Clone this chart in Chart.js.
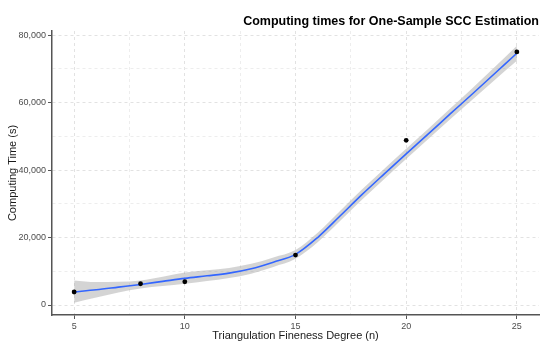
<!DOCTYPE html>
<html>
<head>
<meta charset="utf-8">
<title>Computing times for One-Sample SCC Estimation</title>
<script src="https://cdn.jsdelivr.net/npm/chart.js@4"></script>
<style>
    html, body { margin: 0; padding: 0; background: #ffffff; }
    #wrap { width: 550px; height: 350px; }
</style>
</head>
<body>
<div id="wrap"><canvas id="sccChart"></canvas></div>
<script>
// Observed computing times
const degrees = [5, 8, 10, 15, 20, 25];
const times = [3850, 6300, 6900, 14800, 48800, 75000];

// Smoothed fit and its confidence band
const fitDegrees = [5, 6, 7, 8, 9, 10, 11, 12, 13, 14, 15, 16, 17, 18, 19, 20, 21, 22, 23, 24, 25];
const fitTimes = [3900, 4500, 5300, 6100, 7000, 7900, 8650, 9450, 10750, 12700, 15000, 20000, 26300, 32700, 38800, 44800, 50700, 56700, 62600, 68600, 74600];
const bandLower = [700, 2200, 3700, 4900, 5600, 6300, 7100, 8000, 9300, 11300, 13700, 18600, 24800, 31200, 37300, 43300, 49200, 55100, 60900, 66700, 72400];
const bandUpper = [7300, 6800, 6900, 7300, 8400, 9600, 10300, 11000, 12200, 14100, 16300, 21400, 27800, 34200, 40300, 46300, 52200, 58300, 64300, 70500, 76800];

// Tick positions (major ones get labels, the rest are minor grid lines)
const xTicks = [5, 7.5, 10, 12.5, 15, 17.5, 20, 22.5, 25];
const yTicks = [0, 10000, 20000, 30000, 40000, 50000, 60000, 70000, 80000];

const font = "'Liberation Sans', Arial, sans-serif";

function toPoints(xs, ys) {
    return xs.map((x, i) => ({ x: x, y: ys[i] }));
}

function isMajorX(v) { return v % 5 === 0; }
function isMajorY(v) { return v % 20000 === 0; }

const ctx = document.getElementById("sccChart").getContext("2d");
const chart = new Chart(ctx, {
    type: "line",
    data: {
        datasets: [
            {
                label: "lower",
                data: toPoints(fitDegrees, bandLower),
                borderWidth: 0,
                borderColor: "rgba(0,0,0,0)",
                pointRadius: 0,
                fill: false,
                cubicInterpolationMode: "monotone",
                order: 3
            },
            {
                label: "upper",
                data: toPoints(fitDegrees, bandUpper),
                borderWidth: 0,
                borderColor: "rgba(0,0,0,0)",
                backgroundColor: "rgba(153,153,153,0.42)",
                pointRadius: 0,
                fill: "-1",
                cubicInterpolationMode: "monotone",
                order: 2
            },
            {
                label: "fit",
                data: toPoints(fitDegrees, fitTimes),
                borderColor: "#3366FF",
                borderWidth: 1.6,
                pointRadius: 0,
                fill: false,
                cubicInterpolationMode: "monotone",
                order: 1
            },
            {
                label: "observed",
                data: toPoints(degrees, times),
                showLine: false,
                pointRadius: 2.4,
                pointBackgroundColor: "#000000",
                pointBorderWidth: 0,
                order: 0
            }
        ]
    },
    options: {
        responsive: true,
        maintainAspectRatio: false,
        animation: false,
        events: [],
        layout: { padding: { left: 0, right: 11, top: 0, bottom: 0 } },
        plugins: {
            legend: { display: false },
            tooltip: { enabled: false },
            title: {
                display: true,
                text: "Computing times for One-Sample SCC Estimation",
                align: "end",
                color: "#000000",
                font: { family: font, size: 12.5, weight: "bold" },
                padding: { top: 14, bottom: 2 }
            }
        },
        scales: {
            x: {
                type: "linear",
                min: 4,
                max: 26,
                afterBuildTicks: axis => { axis.ticks = xTicks.map(v => ({ value: v })); },
                afterFit: axis => { axis.height = 35; },
                ticks: {
                    autoSkip: false,
                    maxRotation: 0,
                    padding: 2,
                    color: "#4d4d4d",
                    font: { family: font, size: 9 },
                    callback: v => isMajorX(v) ? String(v) : ""
                },
                grid: {
                    color: c => isMajorX(c.tick.value) ? "#e2e2e2" : "#ededed",
                    tickColor: c => isMajorX(c.tick.value) ? "#555555" : "rgba(0,0,0,0)",
                    tickLength: 4,
                    lineWidth: 1
                },
                border: { display: true, color: "#555555", width: 1.5, dash: [3, 3] },
                title: {
                    display: true,
                    text: "Triangulation Fineness Degree (n)",
                    color: "#1a1a1a",
                    font: { family: font, size: 11 },
                    padding: { top: 0, bottom: 7 }
                }
            },
            y: {
                type: "linear",
                min: -2960,
                max: 81200,
                afterBuildTicks: axis => { axis.ticks = yTicks.map(v => ({ value: v })); },
                afterFit: axis => { axis.width = 52; },
                ticks: {
                    autoSkip: false,
                    padding: 2,
                    color: "#4d4d4d",
                    font: { family: font, size: 9 },
                    callback: v => isMajorY(v) ? v.toLocaleString("en-US") : ""
                },
                grid: {
                    color: c => isMajorY(c.tick.value) ? "#e2e2e2" : "#ededed",
                    tickColor: c => isMajorY(c.tick.value) ? "#555555" : "rgba(0,0,0,0)",
                    tickLength: 4,
                    lineWidth: 1
                },
                border: { display: true, color: "#555555", width: 1.5, dash: [3, 3] },
                title: {
                    display: true,
                    text: "Computing Time (s)",
                    color: "#1a1a1a",
                    font: { family: font, size: 11 },
                    padding: { top: 6, bottom: 0 }
                }
            }
        }
    }
});
</script>
</body>
</html>
